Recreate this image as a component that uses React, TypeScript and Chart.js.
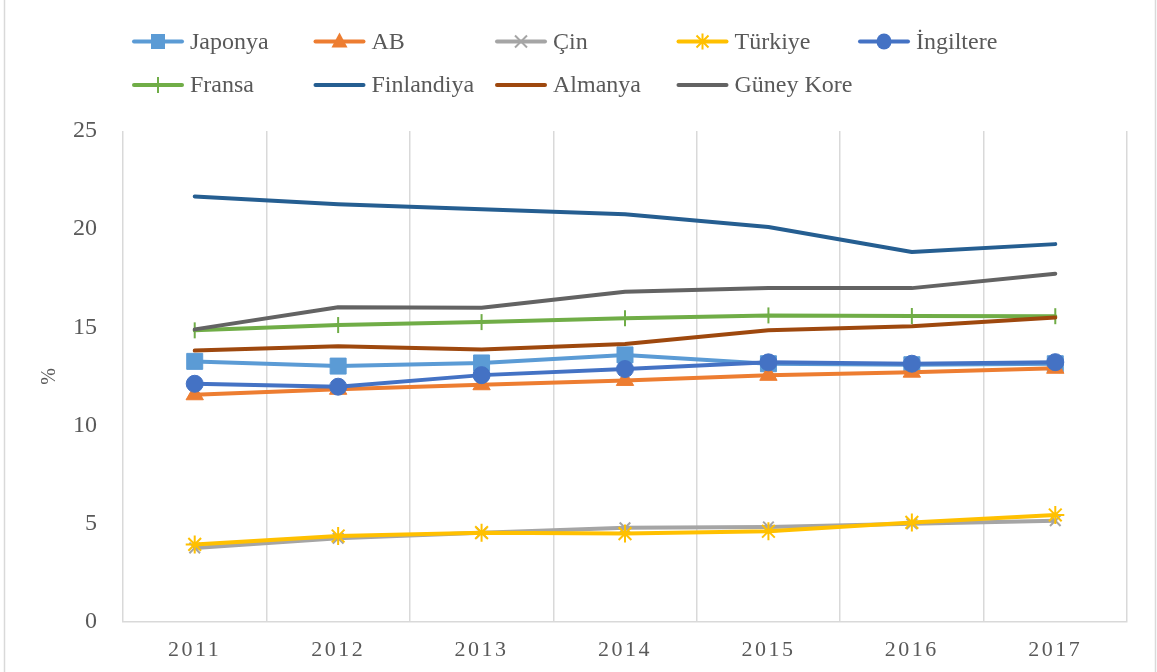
import React, { useEffect, useRef } from 'react';
import { Chart, registerables } from 'chart.js';

Chart.register(...registerables);

const years = ['2011', '2012', '2013', '2014', '2015', '2016', '2017'];
const japonya = [13.27, 13.03, 13.19, 13.6, 13.15, 13.1, 13.15];
const ab = [11.57, 11.85, 12.08, 12.3, 12.56, 12.72, 12.92];
const cin = [3.77, 4.26, 4.54, 4.8, 4.84, 5.0, 5.16];
const turkiye = [3.95, 4.38, 4.55, 4.5, 4.62, 5.07, 5.45];
const ingiltere = [12.13, 11.98, 12.57, 12.88, 13.22, 13.15, 13.23];
const fransa = [14.85, 15.12, 15.27, 15.47, 15.61, 15.58, 15.57];
const finlandiya = [21.67, 21.27, 21.02, 20.76, 20.11, 18.84, 19.24];
const almanya = [13.82, 14.04, 13.88, 14.15, 14.85, 15.06, 15.5];
const guneyKore = [14.9, 16.03, 16.0, 16.82, 17.0, 17.0, 17.73];

const seriesNames = ['Japonya', 'AB', 'Çin', 'Türkiye', 'İngiltere', 'Fransa', 'Finlandiya', 'Almanya', 'Güney Kore'];
const seriesValues = [japonya, ab, cin, turkiye, ingiltere, fransa, finlandiya, almanya, guneyKore];
const seriesColors = ['#5B9BD5', '#ED7D31', '#A5A5A5', '#FFC000', '#4472C4', '#70AD47', '#255E91', '#9E480E', '#636363'];
const seriesMarkers = ['rect', 'triangle', 'crossRot', 'star', 'circle', 'line', 'none', 'none', 'none'];

const FONT = '"Liberation Serif", "Times New Roman", serif';
const TEXT = '#595959';
const GRID = '#D9D9D9';

function markerRadius(m: string) {
  switch (m) {
    case 'rect': return 11.3;
    case 'triangle': return 10;
    case 'crossRot': return 7.5;
    case 'star': return 9;
    case 'circle': return 8.5;
    case 'line': return 8;
    default: return 0;
  }
}

function drawLegendMarker(ctx: CanvasRenderingContext2D, m: string, cx: number, cy: number, color: string) {
  ctx.save();
  ctx.fillStyle = color;
  ctx.strokeStyle = color;
  ctx.lineWidth = 2;
  ctx.lineCap = 'butt';
  ctx.beginPath();
  if (m === 'rect') {
    ctx.fillRect(cx - 7, cy - 7.5, 14, 15);
  } else if (m === 'triangle') {
    ctx.moveTo(cx, cy - 9);
    ctx.lineTo(cx + 8, cy + 6);
    ctx.lineTo(cx - 8, cy + 6);
    ctx.closePath();
    ctx.fill();
  } else if (m === 'crossRot') {
    const d = 6;
    ctx.moveTo(cx - d, cy - d); ctx.lineTo(cx + d, cy + d);
    ctx.moveTo(cx + d, cy - d); ctx.lineTo(cx - d, cy + d);
    ctx.stroke();
  } else if (m === 'star') {
    const d = 8, e = 6;
    ctx.moveTo(cx - d, cy); ctx.lineTo(cx + d, cy);
    ctx.moveTo(cx, cy - d); ctx.lineTo(cx, cy + d);
    ctx.moveTo(cx - e, cy - e); ctx.lineTo(cx + e, cy + e);
    ctx.moveTo(cx + e, cy - e); ctx.lineTo(cx - e, cy + e);
    ctx.stroke();
  } else if (m === 'circle') {
    ctx.ellipse(cx, cy, 7.5, 8, 0, 0, Math.PI * 2);
    ctx.fill();
  } else if (m === 'line') {
    ctx.moveTo(cx, cy - 8); ctx.lineTo(cx, cy + 8);
    ctx.stroke();
  }
  ctx.restore();
}

const customPlugin = {
  id: 'excelLook',
  beforeDraw(chart: any) {
    const ctx = chart.ctx;
    ctx.save();
    ctx.fillStyle = '#ffffff';
    ctx.fillRect(0, 0, chart.width, chart.height);
    ctx.restore();
    const xs: any = chart.scales.x;
    if (xs && !xs.__patched) {
      const orig = xs.drawLabels.bind(xs);
      xs.drawLabels = (area: any) => {
        const c: any = chart.ctx;
        c.save();
        c.letterSpacing = '2.5px';
        orig(area);
        c.restore();
      };
      xs.__patched = true;
    }
  },
  afterDraw(chart: any) {
    const ctx: CanvasRenderingContext2D = chart.ctx;
    ctx.save();
    ctx.strokeStyle = GRID;
    ctx.lineWidth = 1.5;
    ctx.strokeRect(4.5, -5, 1151, 682);
    ctx.restore();
    const ds = chart.data.datasets;
    ds.forEach((d: any, i: number) => {
      const col = i % 5;
      const row = Math.floor(i / 5);
      const x0 = 132 + col * 181.5;
      const y = 41.5 + row * 43.5;
      ctx.save();
      ctx.strokeStyle = d.borderColor;
      ctx.lineWidth = 4;
      ctx.lineCap = 'round';
      ctx.beginPath();
      ctx.moveTo(x0 + 2, y);
      ctx.lineTo(x0 + 50, y);
      ctx.stroke();
      ctx.restore();
      drawLegendMarker(ctx, seriesMarkers[i], x0 + 26, y, d.borderColor);
      ctx.save();
      ctx.fillStyle = TEXT;
      ctx.font = `24px ${FONT}`;
      ctx.textBaseline = 'middle';
      ctx.textAlign = 'left';
      ctx.fillText(d.label, x0 + 58, y + 1);
      ctx.restore();
    });
  },
};

export default function App() {
  const ref = useRef<HTMLCanvasElement | null>(null);

  useEffect(() => {
    document.body.style.margin = '0';
    const canvas = ref.current;
    if (!canvas) return;
    const datasets = seriesNames.map((name, i) => {
      const m = seriesMarkers[i];
      const stroke = m === 'crossRot' || m === 'star' || m === 'line';
      return {
        label: name,
        data: seriesValues[i],
        borderColor: seriesColors[i],
        backgroundColor: seriesColors[i],
        borderWidth: 4,
        borderCapStyle: 'round',
        borderJoinStyle: 'round',
        tension: 0,
        pointStyle: m === 'none' ? 'circle' : m,
        pointRadius: markerRadius(m),
        pointHoverRadius: markerRadius(m),
        pointRotation: m === 'line' ? 90 : 0,
        pointBackgroundColor: seriesColors[i],
        pointBorderColor: seriesColors[i],
        pointBorderWidth: stroke ? 2 : 1,
        order: seriesNames.length - i,
      };
    });
    const chart = new Chart(canvas, {
      type: 'line',
      data: { labels: years, datasets: datasets as any },
      options: {
        animation: false,
        responsive: false,
        maintainAspectRatio: false,
        layout: { padding: { top: 131, right: 30, bottom: 0, left: 0 } },
        plugins: {
          legend: { display: false },
          tooltip: { enabled: false },
        },
        scales: {
          x: {
            type: 'category',
            offset: true,
            grid: { display: true, offset: true, color: GRID, lineWidth: 1.5, drawTicks: false },
            border: { display: true, color: GRID, width: 1.5 },
            ticks: {
              font: { family: FONT, size: 22 },
              color: TEXT,
              padding: 15,
              maxRotation: 0,
              autoSkip: false,
            },
            afterFit: (s: any) => { s.height = 50; },
          },
          y: {
            min: 0,
            max: 25,
            grid: { display: false, drawTicks: false },
            border: { display: false },
            ticks: {
              stepSize: 5,
              font: { family: FONT, size: 24 },
              color: TEXT,
              padding: 26,
            },
            title: {
              display: true,
              text: '%',
              font: { family: FONT, size: 20 },
              color: TEXT,
              padding: { top: 38, bottom: 0 },
            },
            afterFit: (s: any) => { s.width = 123; },
          },
        },
      },
      plugins: [customPlugin],
    });
    return () => chart.destroy();
  }, []);

  return (
    <div style={{ width: 1157, height: 672 }}>
      <canvas ref={ref} width={1157} height={672} style={{ display: 'block', width: 1157, height: 672 }} />
    </div>
  );
}
